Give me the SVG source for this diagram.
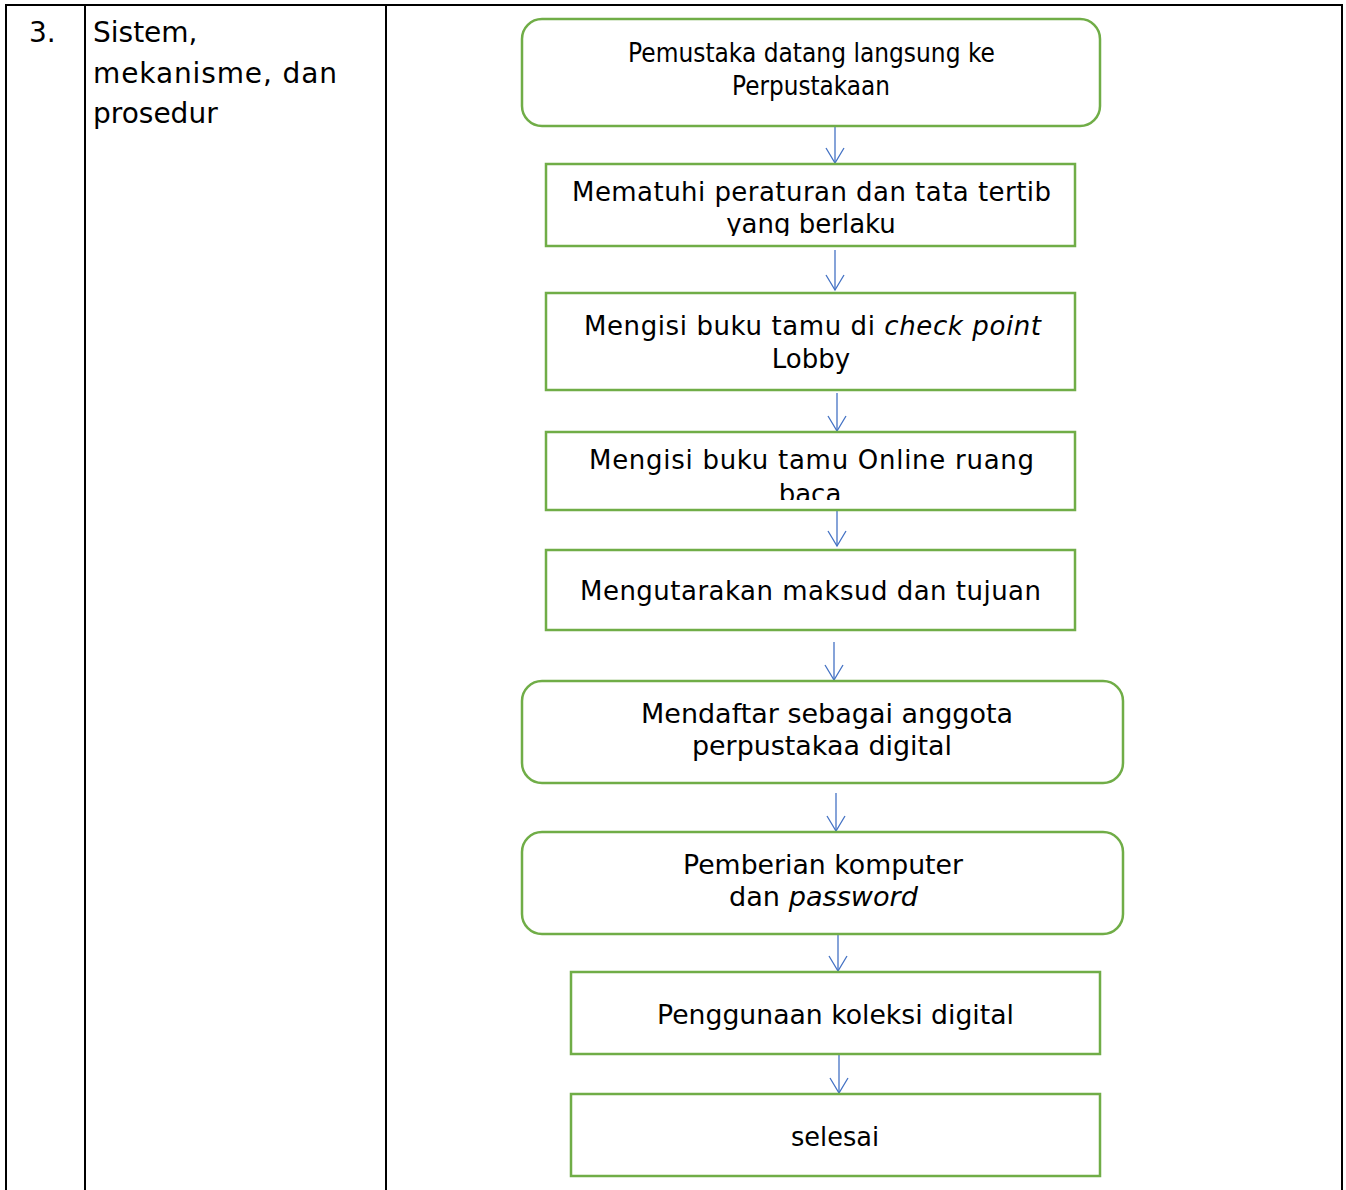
<svg xmlns="http://www.w3.org/2000/svg" width="1346" height="1190" viewBox="0 0 1346 1190">
<style>
.grid{stroke:#000;stroke-width:2;fill:none}
.box{fill:#fff;stroke:#70AD47;stroke-width:2.5}
.t{font-family:"DejaVu Sans",Verdana,sans-serif;font-size:26px;fill:#000}
.tt{font-family:"DejaVu Sans",Tahoma,sans-serif;font-size:27px;fill:#000}
.tc{font-family:"DejaVu Sans","Liberation Sans",sans-serif;font-size:26px;fill:#000}
.hd{font-family:"DejaVu Sans",Verdana,sans-serif;font-size:28px;fill:#000}
.conn{stroke:#4472C4;stroke-width:1.3;fill:none}
</style>
<defs>
<marker id="arr" markerWidth="20" markerHeight="20" refX="16" refY="10" orient="auto" markerUnits="userSpaceOnUse" viewBox="0 0 20 20">
<path d="M1,1 L16,10 L1,19" fill="none" stroke="#4472C4" stroke-width="1.3"/>
</marker>
<clipPath id="c2"><rect x="546" y="164" width="529" height="72"/></clipPath>
<clipPath id="c4"><rect x="546" y="432" width="529" height="68"/></clipPath>
</defs>
<rect width="1346" height="1190" fill="#fff"/>
<g id="table">
<path class="grid" d="M6,1190 V5 H1342 V1190 M85,5 V1190 M386,5 V1190"/>
<text class="hd" x="29" y="42">3.</text>
<text class="hd" x="93" y="42">Sistem,</text>
<text class="hd" x="93" y="83" textLength="244" lengthAdjust="spacing">mekanisme, dan</text>
<text class="hd" x="93" y="123">prosedur</text>
</g>
<g id="connectors">
<line class="conn" x1="835" y1="126" x2="835" y2="163" marker-end="url(#arr)"/>
<line class="conn" x1="835" y1="250" x2="835" y2="290" marker-end="url(#arr)"/>
<line class="conn" x1="837" y1="393" x2="837" y2="431" marker-end="url(#arr)"/>
<line class="conn" x1="837" y1="508" x2="837" y2="546" marker-end="url(#arr)"/>
<line class="conn" x1="834" y1="642" x2="834" y2="680" marker-end="url(#arr)"/>
<line class="conn" x1="836" y1="793" x2="836" y2="831" marker-end="url(#arr)"/>
<line class="conn" x1="838" y1="934" x2="838" y2="971" marker-end="url(#arr)"/>
<line class="conn" x1="839" y1="1054" x2="839" y2="1093" marker-end="url(#arr)"/>
</g>
<g id="n1">
<rect class="box" x="522" y="19" width="578" height="107" rx="20"/>
<text class="tc" x="628" y="62" textLength="367" lengthAdjust="spacingAndGlyphs">Pemustaka datang langsung ke</text>
<text class="tc" x="811" y="95" text-anchor="middle" textLength="158" lengthAdjust="spacingAndGlyphs">Perpustakaan</text>
</g>
<g id="n2">
<rect class="box" x="546" y="164" width="529" height="82"/>
<g clip-path="url(#c2)">
<text class="t" x="572" y="201" textLength="479" lengthAdjust="spacing">Mematuhi peraturan dan tata tertib</text>
<text class="t" x="811" y="233" text-anchor="middle">yang berlaku</text>
</g>
</g>
<g id="n3">
<rect class="box" x="546" y="293" width="529" height="97"/>
<text class="t" x="584" y="335" textLength="457" lengthAdjust="spacing">Mengisi buku tamu di <tspan font-style="italic">check point</tspan></text>
<text class="t" x="811" y="368" text-anchor="middle">Lobby</text>
</g>
<g id="n4">
<rect class="box" x="546" y="432" width="529" height="78"/>
<g clip-path="url(#c4)">
<text class="t" x="589" y="469" textLength="445" lengthAdjust="spacing">Mengisi buku tamu Online ruang</text>
<text class="t" x="810" y="503" text-anchor="middle">baca</text>
</g>
</g>
<g id="n5">
<rect class="box" x="546" y="550" width="529" height="80"/>
<text class="t" x="580" y="600" textLength="461" lengthAdjust="spacing">Mengutarakan maksud dan tujuan</text>
</g>
<g id="n6">
<rect class="box" x="522" y="681" width="601" height="102" rx="20"/>
<text class="tt" x="641" y="723" textLength="372" lengthAdjust="spacingAndGlyphs">Mendaftar sebagai anggota</text>
<text class="tt" x="692" y="755" textLength="260" lengthAdjust="spacingAndGlyphs">perpustakaa digital</text>
</g>
<g id="n7">
<rect class="box" x="522" y="832" width="601" height="102" rx="20"/>
<text class="tt" x="683" y="874" textLength="280" lengthAdjust="spacingAndGlyphs">Pemberian komputer</text>
<text class="tt" x="729" y="906" textLength="189" lengthAdjust="spacingAndGlyphs">dan <tspan font-style="italic">password</tspan></text>
</g>
<g id="n8">
<rect class="box" x="571" y="972" width="529" height="82"/>
<text class="tt" x="657" y="1024" textLength="357" lengthAdjust="spacingAndGlyphs">Penggunaan koleksi digital</text>
</g>
<g id="n9">
<rect class="box" x="571" y="1094" width="529" height="82"/>
<text class="tt" x="835" y="1146" text-anchor="middle" textLength="88" lengthAdjust="spacingAndGlyphs">selesai</text>
</g>
</svg>
